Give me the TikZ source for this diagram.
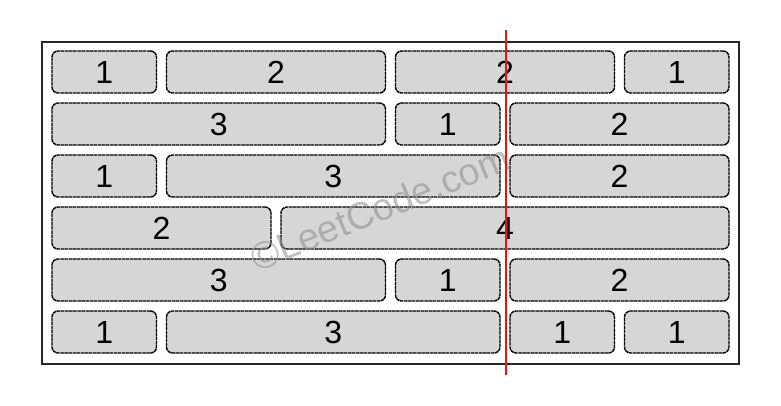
\documentclass[tikz,border=0pt]{standalone}
\usepackage{fontspec}
\setmainfont{Liberation Sans}
\begin{document}
\begin{tikzpicture}[x=1pt,y=-1pt,
    brick/.style = {draw=black, fill=black!16, line width=1.4pt,
        dash pattern=on 3.5pt off 0.6pt, rounded corners=6pt, inner sep=0pt,
        minimum height=42pt, font=\fontsize{32}{32}\selectfont},
    wall/.style = {draw=black!85, line width=1.3pt},
    cut/.style = {draw=red!90!orange, line width=1.3pt},
    watermark/.style = {text=black!45, opacity=0.55, font=\fontsize{38}{38}\selectfont}]
    \useasboundingbox (0,0) rectangle (781,406);
    \node[wall, minimum width=697pt, minimum height=322pt, inner sep=0pt] (wall) at (390.5,203) {};
    % row / start / length
    \foreach \r/\s/\w in {1/0/1, 1/1/2, 1/3/2, 1/5/1,
                          2/0/3, 2/3/1, 2/4/2,
                          3/0/1, 3/1/3, 3/4/2,
                          4/0/2, 4/2/4,
                          5/0/3, 5/3/1, 5/4/2,
                          6/0/1, 6/1/3, 6/4/1, 6/5/1}
        \node[brick, minimum width=\w*114.5pt-10pt] (b-\r-\s)
            at ({52+\s*114.5+(\w*114.5-10)/2}, {72+(\r-1)*52}) {\w};
    \node[watermark, rotate=22] (logo) at (380,208) {©LeetCode.com};
    \coordinate (cut-top) at (506,30);
    \coordinate (cut-bottom) at (506,375);
    \draw[cut] (cut-top) -- (cut-bottom);
\end{tikzpicture}
\end{document}
